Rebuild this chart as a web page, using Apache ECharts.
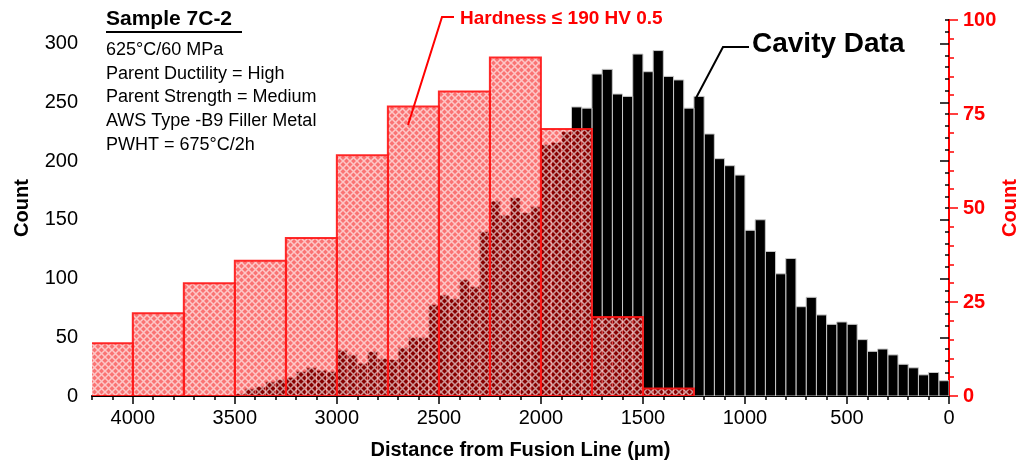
<!DOCTYPE html>
<html>
<head>
<meta charset="utf-8">
<title>Sample 7C-2</title>
<script src="https://cdn.jsdelivr.net/npm/echarts@6/dist/echarts.min.js"></script>
<style>
  html, body { margin: 0; padding: 0; background: #fff; }
  #chart { width: 1026px; height: 466px; }
</style>
</head>
<body>
<div id="chart"></div>
<script type="text/javascript">
    // cavity histogram, 50 um bins (bin start, um)
    const cavityFrom = [
        0, 50, 100, 150, 200, 250, 300, 350, 400, 450,
        500, 550, 600, 650, 700, 750, 800, 850, 900, 950,
        1000, 1050, 1100, 1150, 1200, 1250, 1300, 1350, 1400, 1450,
        1500, 1550, 1600, 1650, 1700, 1750, 1800, 1850, 1900, 1950,
        2000, 2050, 2100, 2150, 2200, 2250, 2300, 2350, 2400, 2450,
        2500, 2550, 2600, 2650, 2700, 2750, 2800, 2850, 2900, 2950,
        3000, 3050, 3100, 3150, 3200, 3250, 3300, 3350, 3400, 3450
    ];
    const cavityCount = [
        13, 20, 18, 24, 27, 35, 40, 38, 48, 61,
        63, 61, 69, 84, 76, 117, 104, 123, 150, 141,
        188, 196, 202, 223, 255, 245, 269, 272, 294, 276,
        291, 255, 257, 278, 274, 245, 246, 225, 216, 214,
        161, 156, 169, 154, 166, 140, 93, 99, 83, 86,
        78, 50, 50, 41, 31, 32, 38, 28, 35, 39,
        21, 22, 24, 21, 16, 14, 12, 8, 6, 2
    ];
    const cavityWidth = 50;

    // hardness <= 190 HV 0.5, 250 um bins (right axis)
    const hardFrom = [1250, 1500, 1750, 2000, 2250, 2500, 2750, 3000, 3250, 3500, 3750, 4000];
    const hardCount = [2, 21, 71, 90, 81, 77, 64, 42, 36, 30, 22, 14];
    const hardWidth = 250;

    const xTicks = [0, 500, 1000, 1500, 2000, 2500, 3000, 3500, 4000];
    const leftTicks = [0, 50, 100, 150, 200, 250, 300];
    const rightTicks = [0, 25, 50, 75, 100];

    const FONT = '"Liberation Sans", Arial, sans-serif';
    const RED = '#ff0000';

    // red cross hatch tile
    function hatchTile() {
        const c = document.createElement('canvas');
        c.width = 7; c.height = 7;
        const g = c.getContext('2d');
        g.fillStyle = 'rgba(245,0,0,0.55)';
        g.fillRect(0, 0, 7, 7);
        g.strokeStyle = 'rgba(255,255,255,0.6)';
        g.lineWidth = 1.5;
        g.beginPath();
        g.moveTo(-1, -1); g.lineTo(8, 8);
        g.moveTo(8, -1); g.lineTo(-1, 8);
        g.stroke();
        return c;
    }
    const hatch = hatchTile();

    function rectItem(fill, stroke, lw) {
        return function (params, api) {
            const p0 = api.coord([api.value(0), api.value(2)]);
            const p1 = api.coord([api.value(1), 0]);
            return {
                type: 'rect',
                shape: {
                    x: Math.min(p0[0], p1[0]),
                    y: p0[1],
                    width: Math.abs(p1[0] - p0[0]),
                    height: p1[1] - p0[1]
                },
                style: { fill: fill, stroke: stroke, lineWidth: lw }
            };
        };
    }

    const cavityData = cavityFrom.map((f, i) => [f, f + cavityWidth, cavityCount[i]]);
    const hardData = hardFrom.map((f, i) => [f, f + hardWidth, hardCount[i]]);

    const chart = echarts.init(document.getElementById('chart'));

    const option = {
        backgroundColor: '#fff',
        animation: false,
        grid: { left: 92, right: 77, top: 20, bottom: 70, outerBoundsMode: 'none', containLabel: false },
        xAxis: [
            {
                type: 'value', min: 0, max: 4200, interval: 500, inverse: true,
                name: 'Distance from Fusion Line (μm)',
                nameLocation: 'middle', nameGap: 44,
                nameTextStyle: { fontFamily: FONT, fontSize: 20, fontWeight: 'bold', color: '#000' },
                axisLine: { onZero: false, lineStyle: { color: '#000', width: 2 } },
                axisTick: { length: 8, lineStyle: { color: '#000', width: 1.5 }, customValues: xTicks },
                axisLabel: {
                    fontFamily: FONT, fontSize: 20, color: '#000', margin: 12,
                    customValues: xTicks,
                    formatter: v => (v % 500 === 0 ? String(v) : '')
                },
                splitLine: { show: false }
            },
            {
                type: 'value', min: 0, max: 4200, interval: 100, inverse: true,
                position: 'bottom',
                axisLine: { show: false },
                axisTick: { length: 4, lineStyle: { color: '#000', width: 1.5 } },
                axisLabel: { show: false },
                splitLine: { show: false }
            }
        ],
        yAxis: [
            {
                type: 'value', min: 0, max: 320, interval: 50, position: 'left',
                name: 'Count', nameLocation: 'middle', nameGap: 60, nameRotate: 90,
                nameTextStyle: { fontFamily: FONT, fontSize: 20, fontWeight: 'bold', color: '#000' },
                axisLine: { show: true, lineStyle: { color: '#000', width: 2 } },
                axisTick: { length: 9, lineStyle: { color: '#000', width: 1.5 }, customValues: leftTicks },
                axisLabel: {
                    fontFamily: FONT, fontSize: 20, color: '#000', margin: 14,
                    customValues: leftTicks,
                    formatter: v => (v % 50 === 0 && v <= 300 ? String(v) : '')
                },
                splitLine: { show: false }
            },
            {
                type: 'value', min: 0, max: 320, interval: 10, position: 'left',
                axisLine: { show: false },
                axisTick: { length: 4, lineStyle: { color: '#000', width: 1.5 } },
                axisLabel: { show: false },
                splitLine: { show: false }
            },
            {
                type: 'value', min: 0, max: 100, interval: 25, position: 'right',
                name: 'Count', nameLocation: 'middle', nameGap: 51, nameRotate: 90,
                nameMoveOverlap: false,
                nameTextStyle: { fontFamily: FONT, fontSize: 20, fontWeight: 'bold', color: RED },
                axisLine: { show: true, lineStyle: { color: RED, width: 2 } },
                axisTick: { length: 9, lineStyle: { color: RED, width: 1.5 } },
                axisLabel: { fontFamily: FONT, fontSize: 20, fontWeight: 'bold', color: RED, margin: 14 },
                splitLine: { show: false }
            },
            {
                type: 'value', min: 0, max: 100, interval: 5, position: 'right',
                axisLine: { show: false },
                axisTick: { length: 5, lineStyle: { color: RED, width: 1.5 } },
                axisLabel: { show: false },
                splitLine: { show: false }
            }
        ],
        series: [
            {
                name: 'Cavity Data',
                type: 'custom',
                xAxisIndex: 0, yAxisIndex: 0,
                clip: true,
                encode: { x: [0, 1], y: 2 },
                renderItem: rectItem('#000', '#c8c8c8', 1),
                data: cavityData,
                z: 2
            },
            {
                name: 'Hardness',
                type: 'custom',
                xAxisIndex: 0, yAxisIndex: 2,
                clip: true,
                encode: { x: [0, 1], y: 2 },
                renderItem: rectItem({ image: hatch, repeat: 'repeat' }, 'rgba(255,20,20,0.9)', 2),
                data: hardData,
                z: 3
            }
        ],
        graphic: [
            {
                type: 'text', left: 106, top: 9, z: 10,
                style: { text: 'Sample 7C-2', font: 'bold 21px ' + FONT, fill: '#000' }
            },
            {
                type: 'line', z: 10,
                shape: { x1: 106, y1: 32, x2: 242, y2: 32 },
                style: { stroke: '#000', lineWidth: 2 }
            },
            {
                type: 'text', left: 106, top: 38, z: 10,
                style: {
                    text: '625°C/60 MPa\nParent Ductility = High\nParent Strength = Medium\nAWS Type -B9 Filler Metal\nPWHT = 675°C/2h',
                    font: '18px ' + FONT, fill: '#000', lineHeight: 23.8
                }
            },
            {
                type: 'text', left: 460, top: 9, z: 10,
                style: { text: 'Hardness ≤ 190 HV 0.5', font: 'bold 19px ' + FONT, fill: RED }
            },
            {
                type: 'polyline', z: 10,
                shape: { points: [[454, 17], [442, 17], [408, 125]] },
                style: { stroke: RED, lineWidth: 2, fill: null }
            },
            {
                type: 'text', left: 752, top: 30, z: 10,
                style: { text: 'Cavity Data', font: 'bold 28px ' + FONT, fill: '#000' }
            },
            {
                type: 'polyline', z: 10,
                shape: { points: [[749, 47], [723, 47], [696, 98]] },
                style: { stroke: '#000', lineWidth: 2, fill: null }
            }
        ]
    };

    chart.setOption(option);
</script>
</body>
</html>
